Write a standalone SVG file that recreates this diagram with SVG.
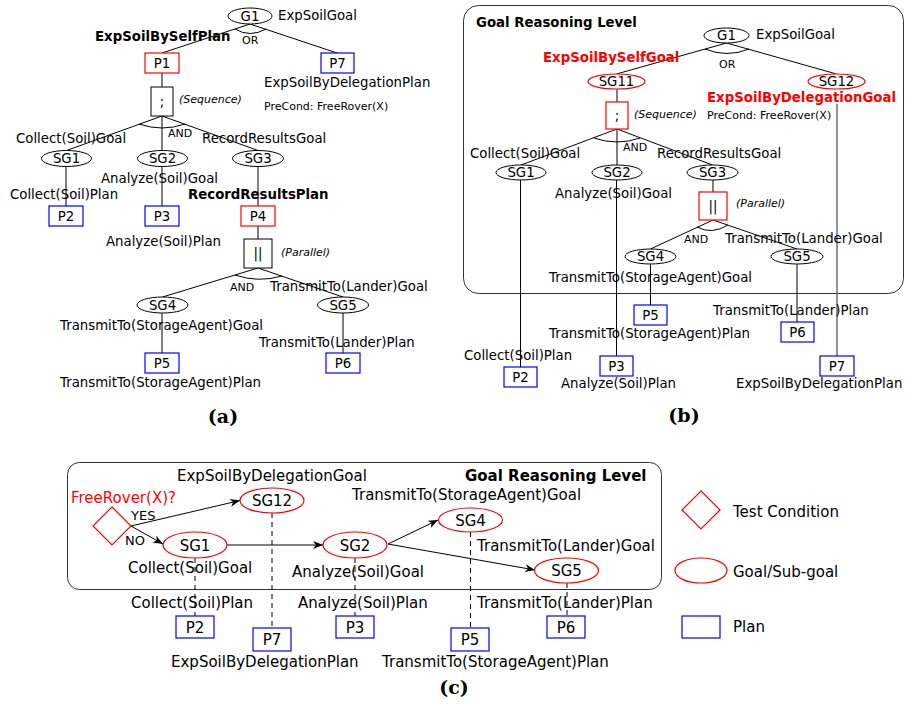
<svg xmlns="http://www.w3.org/2000/svg" width="906" height="713" viewBox="0 0 906 713">
<style>
text{font-family:"DejaVu Sans","Liberation Sans",sans-serif;font-size:13.3px;fill:#000}
.b{font-weight:bold}
.s{font-size:11px}
.i{font-size:11px;font-style:italic}
.c{font-size:15px}
.m{text-anchor:middle}
.red{fill:#ff0000}
.cap{font-family:"DejaVu Serif","Liberation Serif",serif;font-weight:bold;font-size:19px;text-anchor:middle}
.ek{fill:#fff;stroke:#000;stroke-width:1}
.er{fill:#fff;stroke:#ff0000;stroke-width:1.2}
.rk{fill:#fff;stroke:#000;stroke-width:1}
.rr{fill:#fff;stroke:#ff0000;stroke-width:1.2}
.rb{fill:#fff;stroke:#0000ff;stroke-width:1.2}
.ln{stroke:#000;stroke-width:1;fill:none}
.gr{stroke:#666;stroke-width:1.4;fill:none}
.d{stroke:#000;stroke-width:1;fill:none;stroke-dasharray:5,4}
.fr{fill:none;stroke:#333;stroke-width:1}
.ar{stroke:#000;stroke-width:1;fill:none;marker-end:url(#ah)}
</style>
<defs>
<marker id="ah" markerUnits="userSpaceOnUse" markerWidth="11" markerHeight="8" refX="10" refY="4" orient="auto">
<path d="M0,0 L10,4 L0,8 L3,4 z" fill="#000"/>
</marker>
</defs>
<rect width="906" height="713" fill="#fff"/>

<!-- frames -->
<rect class="fr" x="463.5" y="5.5" width="440" height="288" rx="15"/>
<text class="b" x="476" y="27">Goal Reasoning Level</text>
<rect class="fr" x="67.5" y="462.5" width="594" height="127" rx="12"/>
<text class="b c" x="465" y="481">Goal Reasoning Level</text>

<g id="connectors">
<!-- panel a -->
<path class="ln" d="M250,24 L162,53 M250,24 L337,53"/>
<path class="ln" d="M235,29 Q250,38 266,29"/>
<path class="ln" d="M162,73 V87"/>
<path class="ln" d="M162,116 L66.5,150.5 M162,116 V150.5 M162,116 L258,150.5"/>
<path class="ln" d="M139,124 Q162,132 185,124"/>
<path class="ln" d="M66,166.5 V206 M162,166.5 V206 M258,166.5 V206 M258,226 V239"/>
<path class="ln" d="M258,268 L162.5,297 M258,268 L343,297"/>
<path class="ln" d="M235,275 Q258,283 282,276"/>
<path class="ln" d="M162,313 V353 M343,313 V353"/>
<!-- panel b -->
<path class="ln" d="M726.5,43 L616.5,74 M726.5,43 L836.5,74"/>
<path class="ln" d="M705,49 Q727,58 749,49"/>
<path class="ln" d="M617,89 V102"/>
<path class="ln" d="M617,129 L521,165 M617,129 V165 M617,129 L712.5,165"/>
<path class="ln" d="M594,138 Q617,146 640,138"/>
<path class="ln" d="M520.5,180 V367 M616.5,180 V356 M713,180 V192"/>
<path class="ln" d="M713,220 L650.5,249 M713,220 L797,249"/>
<path class="ln" d="M697,227 Q712,235 728,225"/>
<path class="ln" d="M650.5,264 V305 M797,264 V322"/>
<path class="gr" d="M837,104 V356"/>
<!-- panel c -->
<path class="ar" d="M131,526 L240,500.5"/>
<path class="ar" d="M131,526 L163,544"/>
<path class="ar" d="M227,545 L323,545"/>
<path class="ar" d="M388,544 L438,520"/>
<path class="ar" d="M388,544 L535,570"/>
<path class="d" d="M195,558 V616 M272,513 V628 M355,558 V616 M470.5,532 V628 M567,583 V616"/>
</g>

<!-- connector labels -->
<text class="s" x="242" y="44">OR</text>
<text class="s" x="168" y="137">AND</text>
<text class="s" x="230" y="291">AND</text>
<text class="s" x="719" y="68">OR</text>
<text class="s" x="623" y="151">AND</text>
<text class="s" x="684" y="243">AND</text>
<text x="131" y="520" style="font-size:13px">YES</text>
<text x="125" y="545" style="font-size:13px">NO</text>

<!-- ===== panel (a) ===== -->
<g id="a-G1"><ellipse class="ek" cx="250" cy="16" rx="22" ry="8"/><text class="m" x="250" y="21">G1</text><text x="278" y="20">ExpSoilGoal</text></g>
<g id="a-P1"><rect class="rr" x="145" y="53" width="34" height="20"/><text class="m" x="162" y="68">P1</text><text class="b" x="95" y="41">ExpSoilBySelfPlan</text></g>
<g id="a-P7"><rect class="rb" x="321" y="53" width="33" height="20"/><text class="m" x="337.5" y="68">P7</text><text x="264" y="87">ExpSoilByDelegationPlan</text><text class="s" x="264" y="110">PreCond: FreeRover(X)</text></g>
<g id="a-seq"><rect class="rk" x="151" y="87" width="22" height="29"/><text class="m" x="162" y="106">;</text><text class="i" x="179" y="103">(Sequence)</text></g>
<g id="a-SG1"><ellipse class="ek" cx="66.5" cy="158.5" rx="25" ry="8"/><text class="m" x="66.5" y="163.3">SG1</text><text x="16" y="143">Collect(Soil)Goal</text></g>
<g id="a-SG2"><ellipse class="ek" cx="162.5" cy="158.5" rx="25" ry="8"/><text class="m" x="162.5" y="163.3">SG2</text><text x="101" y="183">Analyze(Soil)Goal</text></g>
<g id="a-SG3"><ellipse class="ek" cx="258" cy="158.5" rx="25.5" ry="8"/><text class="m" x="258" y="163.3">SG3</text><text x="202" y="143">RecordResultsGoal</text></g>
<g id="a-P2"><rect class="rb" x="49" y="206" width="34" height="20"/><text class="m" x="66" y="221">P2</text><text x="10" y="199">Collect(Soil)Plan</text></g>
<g id="a-P3"><rect class="rb" x="145" y="206" width="34" height="20"/><text class="m" x="162" y="221">P3</text><text x="106" y="246">Analyze(Soil)Plan</text></g>
<g id="a-P4"><rect class="rr" x="241" y="206" width="34" height="20"/><text class="m" x="258" y="221">P4</text><text class="b" x="188" y="199">RecordResultsPlan</text></g>
<g id="a-par"><rect class="rk" x="244" y="239" width="28" height="29"/><text class="m" x="258" y="258">||</text><text class="i" x="281" y="256">(Parallel)</text></g>
<g id="a-SG4"><ellipse class="ek" cx="162.5" cy="305" rx="25.5" ry="8"/><text class="m" x="162.5" y="309.8">SG4</text><text x="60" y="330">TransmitTo(StorageAgent)Goal</text></g>
<g id="a-SG5"><ellipse class="ek" cx="343" cy="305" rx="25.5" ry="8"/><text class="m" x="343" y="309.8">SG5</text><text x="270" y="291">TransmitTo(Lander)Goal</text></g>
<g id="a-P5"><rect class="rb" x="145" y="353" width="34" height="20"/><text class="m" x="162" y="368">P5</text><text x="60" y="387">TransmitTo(StorageAgent)Plan</text></g>
<g id="a-P6"><rect class="rb" x="326" y="353" width="34" height="20"/><text class="m" x="343" y="368">P6</text><text x="259" y="347">TransmitTo(Lander)Plan</text></g>
<text class="cap" x="223" y="423">(a)</text>

<!-- ===== panel (b) ===== -->
<g id="b-G1"><ellipse class="ek" cx="726.5" cy="35.5" rx="22.5" ry="7.5"/><text class="m" x="726.5" y="40.3">G1</text><text x="756" y="39">ExpSoilGoal</text></g>
<g id="b-SG11"><ellipse class="er" cx="616.5" cy="81.5" rx="28.5" ry="7.5"/><text class="m" x="616.5" y="86.3">SG11</text><text class="b red" x="543" y="62">ExpSoilBySelfGoal</text></g>
<g id="b-SG12"><ellipse class="er" cx="836.5" cy="81.5" rx="28.5" ry="7.5"/><text class="m" x="836.5" y="86.3">SG12</text><text class="b red" x="707" y="102">ExpSoilByDelegationGoal</text><text class="s" x="707" y="119">PreCond: FreeRover(X)</text></g>
<g id="b-seq"><rect class="rr" x="606" y="102" width="22" height="27"/><text class="m" x="617" y="120">;</text><text class="i" x="634" y="118">(Sequence)</text></g>
<g id="b-SG1"><ellipse class="ek" cx="521" cy="172.5" rx="25" ry="7.5"/><text class="m" x="521" y="177.3">SG1</text><text x="470" y="158">Collect(Soil)Goal</text></g>
<g id="b-SG2"><ellipse class="ek" cx="617" cy="172.5" rx="25" ry="7.5"/><text class="m" x="617" y="177.3">SG2</text><text x="555" y="198">Analyze(Soil)Goal</text></g>
<g id="b-SG3"><ellipse class="ek" cx="712.5" cy="172.5" rx="25.5" ry="7.5"/><text class="m" x="712.5" y="177.3">SG3</text><text x="657" y="158">RecordResultsGoal</text></g>
<g id="b-par"><rect class="rr" x="699" y="192" width="28" height="28"/><text class="m" x="713" y="211">||</text><text class="i" x="736" y="207">(Parallel)</text></g>
<g id="b-SG4"><ellipse class="ek" cx="650.5" cy="256.5" rx="25.5" ry="7.5"/><text class="m" x="650.5" y="261.3">SG4</text><text x="549" y="282">TransmitTo(StorageAgent)Goal</text></g>
<g id="b-SG5"><ellipse class="ek" cx="797" cy="256.5" rx="26" ry="7.5"/><text class="m" x="797" y="261.3">SG5</text><text x="725" y="243">TransmitTo(Lander)Goal</text></g>
<g id="b-P5"><rect class="rb" x="634" y="305" width="33" height="20"/><text class="m" x="650.5" y="320">P5</text><text x="549" y="338">TransmitTo(StorageAgent)Plan</text></g>
<g id="b-P6"><rect class="rb" x="781" y="322" width="33" height="20"/><text class="m" x="797.5" y="337">P6</text><text x="713" y="315">TransmitTo(Lander)Plan</text></g>
<g id="b-P3"><rect class="rb" x="600" y="356" width="33" height="20"/><text class="m" x="616.5" y="371">P3</text><text x="561" y="388">Analyze(Soil)Plan</text></g>
<g id="b-P2"><rect class="rb" x="504" y="367" width="33" height="20"/><text class="m" x="520.5" y="382">P2</text><text x="464" y="360">Collect(Soil)Plan</text></g>
<g id="b-P7"><rect class="rb" x="820" y="356" width="34" height="20"/><text class="m" x="837" y="371">P7</text><text x="736" y="388">ExpSoilByDelegationPlan</text></g>
<text class="cap" x="684" y="422">(b)</text>

<!-- ===== panel (c) ===== -->
<g id="c-cond"><polygon points="112,507 131,526 112,545 93,526" fill="#fff" stroke="#ff0000" stroke-width="1.2"/><text class="c red" x="71" y="503">FreeRover(X)?</text></g>
<g id="c-SG12"><ellipse class="er" cx="272" cy="500.5" rx="32" ry="12.5"/><text class="c m" x="272" y="506">SG12</text><text class="c" x="177" y="481">ExpSoilByDelegationGoal</text></g>
<g id="c-SG1"><ellipse class="er" cx="195" cy="545" rx="32" ry="13"/><text class="c m" x="195" y="550.5">SG1</text><text class="c" x="128" y="573">Collect(Soil)Goal</text></g>
<g id="c-SG2"><ellipse class="er" cx="355" cy="545" rx="32" ry="13"/><text class="c m" x="355" y="550.5">SG2</text><text class="c" x="292" y="577">Analyze(Soil)Goal</text></g>
<g id="c-SG4"><ellipse class="er" cx="470.5" cy="520" rx="32" ry="12"/><text class="c m" x="470.5" y="525.5">SG4</text><text class="c" x="352" y="500">TransmitTo(StorageAgent)Goal</text></g>
<g id="c-SG5"><ellipse class="er" cx="566.5" cy="570.5" rx="32" ry="12.5"/><text class="c m" x="566.5" y="576">SG5</text><text class="c" x="477" y="551">TransmitTo(Lander)Goal</text></g>
<g id="c-P2"><rect class="rb" x="176" y="616" width="38" height="22"/><text class="c m" x="195" y="632.5">P2</text><text class="c" x="131" y="608">Collect(Soil)Plan</text></g>
<g id="c-P7"><rect class="rb" x="253" y="628" width="38" height="23"/><text class="c m" x="272" y="645">P7</text><text class="c" x="171" y="667">ExpSoilByDelegationPlan</text></g>
<g id="c-P3"><rect class="rb" x="336" y="616" width="38" height="22"/><text class="c m" x="355" y="632.5">P3</text><text class="c" x="298" y="608">Analyze(Soil)Plan</text></g>
<g id="c-P5"><rect class="rb" x="451" y="628" width="38" height="23"/><text class="c m" x="470" y="645">P5</text><text class="c" x="382" y="667">TransmitTo(StorageAgent)Plan</text></g>
<g id="c-P6"><rect class="rb" x="547" y="616" width="38" height="22"/><text class="c m" x="566" y="632.5">P6</text><text class="c" x="477" y="608">TransmitTo(Lander)Plan</text></g>
<text class="cap" x="454" y="694">(c)</text>

<!-- legend -->
<g id="leg-cond"><polygon points="701,491 720,510 701,529 682,510" fill="#fff" stroke="#ff0000" stroke-width="1.2"/><text class="c" x="733" y="517">Test Condition</text></g>
<g id="leg-goal"><ellipse class="er" cx="701" cy="570.5" rx="26" ry="12.5"/><text class="c" x="733" y="577">Goal/Sub-goal</text></g>
<g id="leg-plan"><rect class="rb" x="682" y="616" width="38" height="22"/><text class="c" x="733" y="632">Plan</text></g>
</svg>
